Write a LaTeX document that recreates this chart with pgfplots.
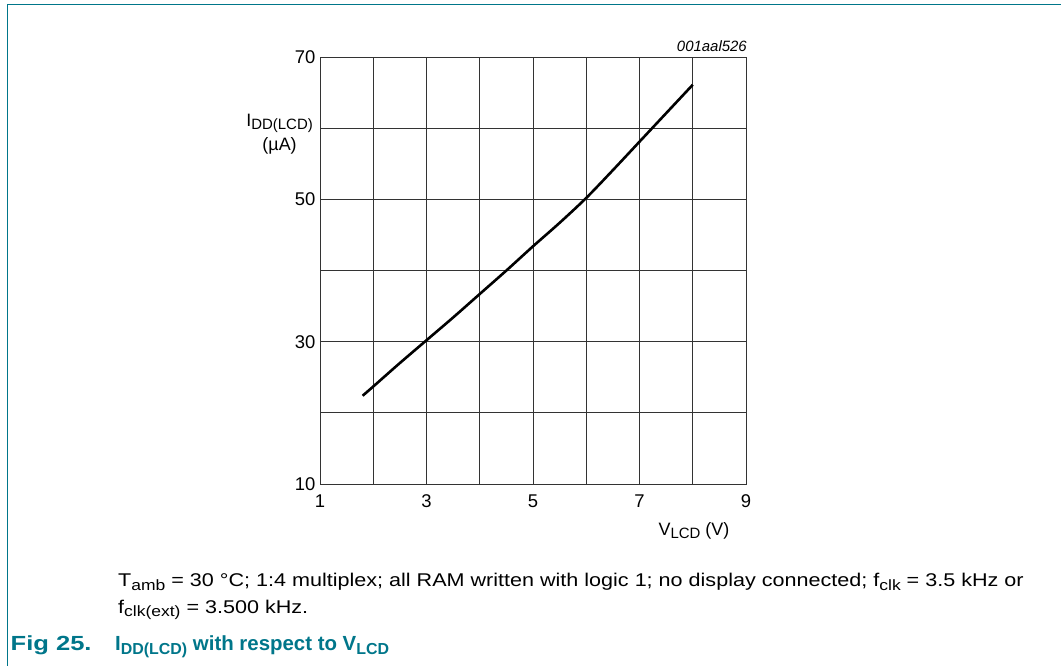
\documentclass[border=0pt]{standalone}
\usepackage{pgfplots}
\pgfplotsset{compat=1.18}
\usepackage{fontspec}
\setmainfont{Liberation Sans}
\newfontfamily\capfont[FakeStretch=1.17]{Liberation Sans}
\newfontfamily\figfont[FakeStretch=1.25]{Liberation Sans}
\definecolor{nxpteal}{RGB}{0,118,138}
\newcommand{\sbs}[2][14]{\raisebox{-3.5bp}{\fontsize{#1}{#1}\selectfont #2}}
\begin{document}
\begin{tikzpicture}[x=1bp,y=1bp]
\path[use as bounding box] (0,0) rectangle (1061,-666);
\draw[nxpteal, line width=1.3bp] (7.5,-666) -- (7.5,-4.5) -- (1061,-4.5);
\begin{axis}[
  at={(320bp,-484bp)}, anchor=south west,
  scale only axis, width=426bp, height=427bp,
  xmin=1, xmax=9, ymin=10, ymax=70,
  xtick={1,2,3,4,5,6,7,8,9}, xticklabels={1,,3,,5,,7,,9},
  ytick={10,20,30,40,50,60,70}, yticklabels={10,,30,,50,,70},
  grid=major,
  major grid style={black!80, line width=0.8bp},
  axis line style={black!80, line width=0.8bp},
  tick style={draw=none},
  ticklabel style={font=\fontsize{18.5}{20}\selectfont},
  xticklabel style={yshift=-7bp},
  yticklabel style={xshift=-1bp},
  clip=false,
]
\addplot[black, line width=2.6bp, smooth] coordinates {
(1.8,22.4) (2,23.7) (2.5,27.0) (3,30.2) (3.5,33.4) (4,36.7) (4.5,40.0)
(5,43.4) (5.5,46.7) (6,50.2) (6.5,54.1) (7,58.1) (7.5,62.1) (8,66.1)
};
\end{axis}
\node[anchor=east, align=center, inner sep=0, font=\fontsize{18}{24}\selectfont] at (313,-134) {I\sbs[15]{DD(LCD)}\\(µA)};
\node[anchor=base, inner sep=0, font=\fontsize{18}{20}\selectfont] at (694,-535) {V\sbs[15]{LCD} (V)};
\node[anchor=base east, inner sep=0, font=\fontsize{15}{15}\selectfont\itshape] at (747,-51.5) {001aal526};
\node[anchor=base west, inner sep=0, font=\capfont\fontsize{18.5}{19}\selectfont] at (118,-586.5) {T\sbs[15]{amb} = 30 °C; 1:4 multiplex; all RAM written with logic 1; no display connected; f\sbs[15]{clk} = 3.5 kHz or};
\node[anchor=base west, inner sep=0, font=\capfont\fontsize{18.5}{19}\selectfont] at (118,-613.3) {f\sbs[15]{clk(ext)} = 3.500 kHz.};
\node[anchor=base west, inner sep=0, text=nxpteal, font=\figfont\fontsize{20.5}{21}\selectfont\bfseries] at (10.5,-650.7) {Fig 25.};
\node[anchor=base west, inner sep=0, text=nxpteal, font=\fontsize{20.5}{21}\selectfont\bfseries] at (115,-650.7) {I\sbs[16]{DD(LCD)} with respect to V\sbs[16]{LCD}};
\end{tikzpicture}
\end{document}
